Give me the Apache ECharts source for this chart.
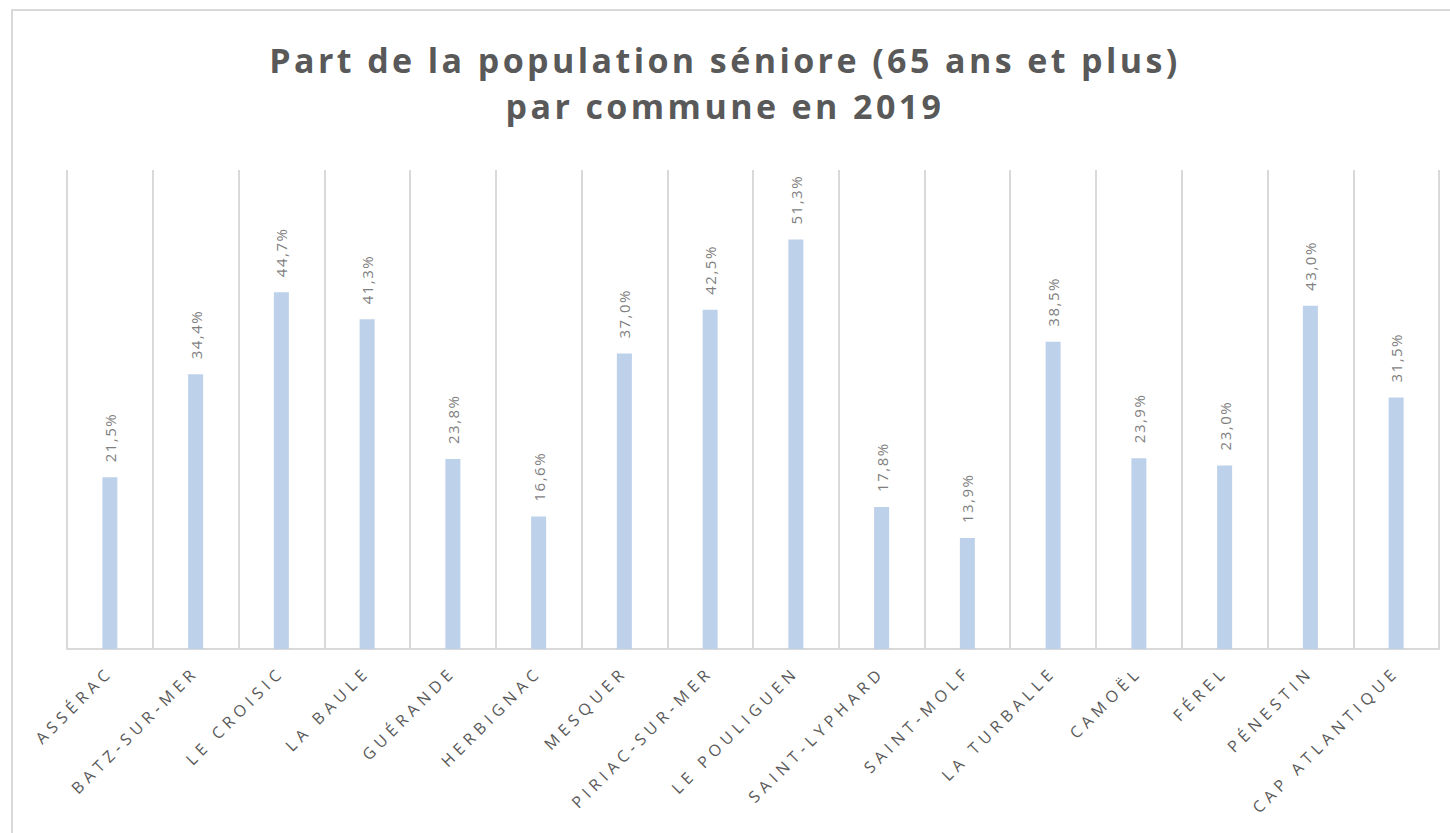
<!DOCTYPE html>
<html>
<head>
<meta charset="utf-8">
<script src="https://cdn.jsdelivr.net/npm/echarts@6/dist/echarts.min.js"></script>
<style>
  html, body { margin: 0; padding: 0; background: #fff; }
  #chart { width: 1450px; height: 833px; }
  #chart text[style*="TTLF"] { letter-spacing: 3.4px; }
  #chart text[style*="XLBL"] { letter-spacing: 5px; }
  #chart text[style*="DLBL"] { letter-spacing: 1.5px; }
</style>
</head>
<body>
<div id="chart"></div>
<script>
const titleLines = ['Part de la population séniore (65 ans et plus)', 'par commune en 2019'];
const communes = ['ASSÉRAC', 'BATZ-SUR-MER', 'LE CROISIC', 'LA BAULE', 'GUÉRANDE', 'HERBIGNAC', 'MESQUER', 'PIRIAC-SUR-MER', 'LE POULIGUEN', 'SAINT-LYPHARD', 'SAINT-MOLF', 'LA TURBALLE', 'CAMOËL', 'FÉREL', 'PÉNESTIN', 'CAP ATLANTIQUE'];
const partSeniors = [21.5, 34.4, 44.7, 41.3, 23.8, 16.6, 37.0, 42.5, 51.3, 17.8, 13.9, 38.5, 23.9, 23.0, 43.0, 31.5];

const chart = echarts.init(document.getElementById('chart'), null, { renderer: 'svg' });
chart.setOption({
  backgroundColor: '#ffffff',
  animation: false,
  graphic: [{
    type: 'rect',
    shape: { x: 12, y: 10, width: 1460, height: 900 },
    style: { fill: 'none', stroke: '#D9D9D9', lineWidth: 2 },
    silent: true
  }],
  title: {
    text: titleLines.join('\n'),
    left: 'center',
    top: 32,
    textStyle: {
      fontFamily: "'Open Sans', TTLF",
      fontWeight: 'bold',
      fontSize: 34,
      lineHeight: 46,
      color: '#595959'
    }
  },
  grid: { left: 67, right: 11, top: 170, bottom: 184 },
  xAxis: {
    type: 'category',
    data: communes,
    axisLine: { lineStyle: { color: '#D9D9D9', width: 2 } },
    axisTick: { show: false },
    splitLine: { show: true, interval: 0, lineStyle: { color: '#D9D9D9', width: 2 } },
    axisLabel: {
      interval: 0,
      rotate: 45,
      margin: 20,
      fontFamily: "'Open Sans', XLBL",
      fontSize: 16,
      color: '#595959'
    }
  },
  yAxis: {
    type: 'value',
    min: 0,
    max: 60,
    show: false,
    splitLine: { show: false }
  },
  series: [{
    type: 'bar',
    data: partSeniors,
    barWidth: 15,
    itemStyle: { color: '#BDD1EA' },
    label: {
      show: true,
      position: 'top',
      rotate: 90,
      align: 'left',
      verticalAlign: 'middle',
      distance: 15,
      fontFamily: "'Open Sans', DLBL",
      fontSize: 15,
      color: '#7F7F7F',
      formatter: p => p.value.toFixed(1).replace('.', ',') + '%'
    }
  }]
});
</script>
</body>
</html>
